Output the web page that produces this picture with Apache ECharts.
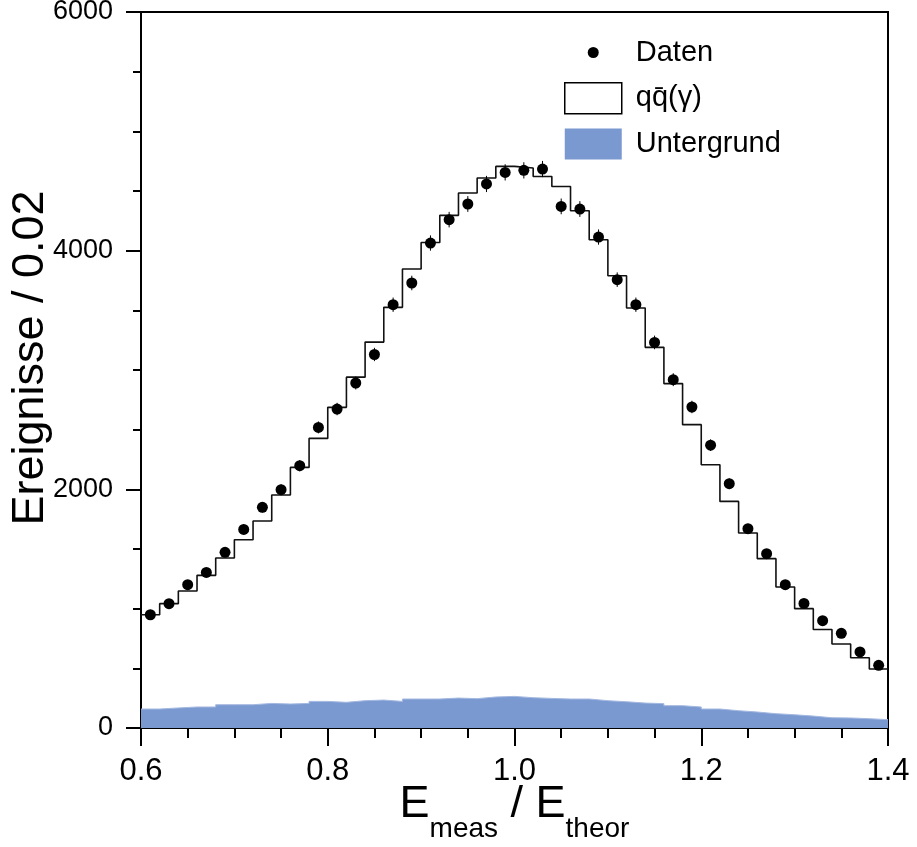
<!DOCTYPE html>
<html><head><meta charset="utf-8">
<script src="https://cdn.jsdelivr.net/npm/echarts@6/dist/echarts.min.js"></script>
<style>html,body{margin:0;padding:0;background:#fff}#c{width:917px;height:847px}</style>
</head><body><div id="c"></div>
<script>
// ---- data ----
const binCenters = [0.61,0.63,0.65,0.67,0.69,0.71,0.73,0.75,0.77,0.79,
                    0.81,0.83,0.85,0.87,0.89,0.91,0.93,0.95,0.97,0.99,
                    1.01,1.03,1.05,1.07,1.09,1.11,1.13,1.15,1.17,1.19,
                    1.21,1.23,1.25,1.27,1.29,1.31,1.33,1.35,1.37,1.39];
const binWidth = 0.02;
const dataValues = [949,1042,1201,1304,1472,1664,1849,1997,2198,2519,
                    2673,2891,3130,3547,3729,4064,4260,4391,4559,4656,
                    4673,4684,4371,4349,4114,3757,3547,3231,2919,2690,
                    2370,2047,1670,1461,1201,1044,899,793,637,525];
const dataErrors = [31,32,35,36,38,41,43,45,47,50,
                    52,54,56,60,61,64,65,66,68,68,
                    68,68,66,66,64,61,60,57,54,52,
                    49,45,41,38,35,32,30,28,25,23];
const mcValues   = [949,1042,1148,1279,1425,1578,1735,1953,2184,2427,
                    2687,2940,3234,3525,3846,4069,4296,4483,4609,4706,
                    4693,4622,4538,4335,4092,3790,3520,3190,2886,2542,
                    2206,1899,1634,1419,1182,1000,826,704,589,494];
const bgValues   = [159,168,176,176,195,195,206,201,206,223,
                    215,229,234,223,243,243,251,246,260,265,
                    254,248,243,243,229,220,209,204,187,176,
                    159,145,134,120,111,100,86,84,78,70];
const xTickLabels = ['0.6','0.8','1.0','1.2','1.4'];
const yTickLabels = ['0','2000','4000','6000'];
const seriesNames = ['Daten','qq\u0304(\u03B3)','Untergrund'];

// ---- helpers ----
function stepPoints(vals){
  const pts = binCenters.map((c,i)=>[c-binWidth/2, vals[i]]);
  pts.push([binCenters[binCenters.length-1]+binWidth/2, vals[vals.length-1]]);
  return pts;
}
const FONT = 'Liberation Sans, Arial, Helvetica, sans-serif';
const BLUE = '#7b99d1';

const chart = echarts.init(document.getElementById('c'), null, {renderer:'canvas'});
chart.setOption({
  animation:false,
  backgroundColor:'#fff',
  grid:{left:141, top:12, width:747, height:716, show:true, borderColor:'#000', borderWidth:2,
        backgroundColor:'transparent', containLabel:false, outerBoundsMode:'none'},
  legend:{
    orient:'vertical', left:564, top:37, padding:0, itemWidth:57, itemHeight:31, itemGap:14,
    textStyle:{fontFamily:FONT, fontSize:29, color:'#000', padding:[0,0,0,9]},
    selectedMode:false,
    data:[
      {name:seriesNames[0], icon:'path://M0,0 M57,31 M23,15.5 A5.5,5.5 0 1,0 34,15.5 A5.5,5.5 0 1,0 23,15.5 Z', itemStyle:{color:'#000', opacity:1}},
      {name:seriesNames[1], icon:'rect', itemStyle:{color:'#fff', borderColor:'#000', borderWidth:1.5}},
      {name:seriesNames[2], icon:'rect', itemStyle:{color:BLUE, borderWidth:0}}
    ]
  },
  xAxis:{
    type:'value', min:0.6, max:1.4, interval:0.2,
    name:'{a|E}{b|meas}{a| / E}{b|theor}',
    nameLocation:'middle', nameGap:54, nameMoveOverlap:false,
    nameTextStyle:{
      fontFamily:FONT, color:'#000',
      rich:{
        a:{fontFamily:FONT, fontSize:45, lineHeight:50, color:'#000', verticalAlign:'top'},
        b:{fontFamily:FONT, fontSize:28, lineHeight:32, color:'#000', verticalAlign:'top', padding:[33,0,0,0]}
      }
    },
    axisLine:{show:true, onZero:false, lineStyle:{color:'#000', width:2}},
    axisTick:{show:true, inside:false, length:18, lineStyle:{color:'#000', width:2}},
    minorTick:{show:true, splitNumber:4, length:10, lineStyle:{color:'#000', width:2}},
    splitLine:{show:false},
    axisLabel:{fontFamily:FONT, fontSize:31, color:'#000', margin:28,
      formatter:(v)=>{const i=Math.round((v-0.6)/0.2); return xTickLabels[i]!==undefined?xTickLabels[i]:'';}}
  },
  yAxis:{
    type:'value', min:0, max:6000, interval:2000,
    name:'Ereignisse / 0.02', nameLocation:'middle', nameGap:88, nameRotate:90, nameMoveOverlap:false,
    nameTextStyle:{fontFamily:FONT, fontSize:45, color:'#000', padding:[0,0,0,24]},
    axisLine:{show:true, lineStyle:{color:'#000', width:2}},
    axisTick:{show:true, inside:false, length:15, lineStyle:{color:'#000', width:2}},
    minorTick:{show:true, splitNumber:4, length:8, lineStyle:{color:'#000', width:2}},
    splitLine:{show:false},
    axisLabel:{fontFamily:FONT, fontSize:27, color:'#000', margin:28,
      formatter:(v)=>{const i=Math.round(v/2000); return yTickLabels[i]!==undefined?yTickLabels[i]:'';}}
  },
  series:[
    {
      name:seriesNames[2], type:'line', step:'end', data:stepPoints(bgValues),
      symbol:'none', z:1,
      lineStyle:{color:'#a3b8e0', width:1},
      itemStyle:{color:BLUE},
      areaStyle:{color:BLUE, opacity:1}
    },
    {
      name:seriesNames[1], type:'line', step:'end', data:stepPoints(mcValues),
      symbol:'none', z:2,
      lineStyle:{color:'#111', width:1.6},
      itemStyle:{color:'#000'}
    },
    {
      name:'err', type:'custom', z:3,
      data:binCenters.map((c,i)=>[c, dataValues[i], dataErrors[i]]),
      renderItem:(params, api)=>{
        const x=api.value(0), y=api.value(1), e=api.value(2);
        const p1=api.coord([x,y-e]), p2=api.coord([x,y+e]);
        return {type:'line', shape:{x1:p1[0],y1:p1[1],x2:p2[0],y2:p2[1]}, style:{stroke:'#000', lineWidth:1}};
      }
    },
    {
      name:seriesNames[0], type:'scatter', z:4,
      data:binCenters.map((c,i)=>[c, dataValues[i]]),
      symbol:'circle', symbolSize:11,
      itemStyle:{color:'#000', opacity:1}
    }
  ]
});
</script></body></html>
